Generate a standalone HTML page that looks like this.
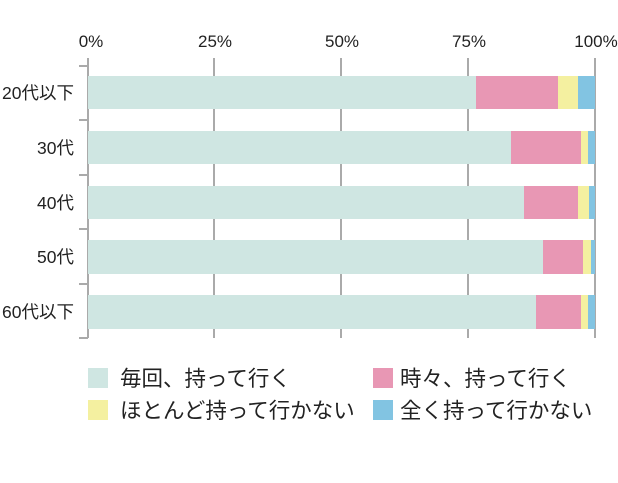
<!DOCTYPE html>
<html><head><meta charset="utf-8"><style>
body{margin:0;background:#fff;width:618px;height:478px;overflow:hidden}
svg text{font-family:"Liberation Sans","Noto Sans CJK JP",sans-serif;fill:#222}
</style></head><body>
<svg width="618" height="478" xmlns="http://www.w3.org/2000/svg">
<g font-size="17" text-anchor="middle">
<text x="91" y="47">0%</text><text x="215" y="47">25%</text><text x="342" y="47">50%</text><text x="469" y="47">75%</text><text x="596" y="47">100%</text>
</g>
<g stroke="#aaa" stroke-width="2">
<line x1="88" y1="58" x2="88" y2="338"/><line x1="214" y1="58" x2="214" y2="338"/><line x1="341" y1="58" x2="341" y2="338"/><line x1="468" y1="58" x2="468" y2="338"/><line x1="595" y1="58" x2="595" y2="338"/>
<line x1="79" y1="66" x2="88" y2="66"/><line x1="79" y1="120" x2="88" y2="120"/><line x1="79" y1="175" x2="88" y2="175"/><line x1="79" y1="229" x2="88" y2="229"/><line x1="79" y1="284" x2="88" y2="284"/><line x1="79" y1="338" x2="88" y2="338"/>
</g>
<g>
<rect x="88" y="76" width="388" height="33" fill="#cfe6e2"/><rect x="476" y="76" width="82" height="33" fill="#e897b4"/><rect x="558" y="76" width="20" height="33" fill="#f4f0a0"/><rect x="578" y="76" width="17" height="33" fill="#82c4e2"/>
<rect x="88" y="131" width="423" height="33" fill="#cfe6e2"/><rect x="511" y="131" width="70" height="33" fill="#e897b4"/><rect x="581" y="131" width="7" height="33" fill="#f4f0a0"/><rect x="588" y="131" width="7" height="33" fill="#82c4e2"/>
<rect x="88" y="186" width="436" height="33" fill="#cfe6e2"/><rect x="524" y="186" width="54" height="33" fill="#e897b4"/><rect x="578" y="186" width="11" height="33" fill="#f4f0a0"/><rect x="589" y="186" width="6" height="33" fill="#82c4e2"/>
<rect x="88" y="240" width="455" height="34" fill="#cfe6e2"/><rect x="543" y="240" width="40" height="34" fill="#e897b4"/><rect x="583" y="240" width="8" height="34" fill="#f4f0a0"/><rect x="591" y="240" width="4" height="34" fill="#82c4e2"/>
<rect x="88" y="295" width="448" height="34" fill="#cfe6e2"/><rect x="536" y="295" width="45" height="34" fill="#e897b4"/><rect x="581" y="295" width="7" height="34" fill="#f4f0a0"/><rect x="588" y="295" width="7" height="34" fill="#82c4e2"/>
</g>
<g font-size="17.5" text-anchor="end">
<text x="74" y="99">20代以下</text><text x="74" y="154">30代</text><text x="74" y="209">40代</text><text x="74" y="263">50代</text><text x="74" y="318">60代以下</text>
</g>
<g font-size="21.5">
<rect x="88" y="368" width="20" height="20" fill="#cfe6e2"/><text x="120" y="386">毎回、持って行く</text>
<rect x="373" y="368" width="20" height="20" fill="#e897b4"/><text x="400" y="386">時々、持って行く</text>
<rect x="88" y="400" width="20" height="20" fill="#f4f0a0"/><text x="120" y="418">ほとんど持って行かない</text>
<rect x="373" y="400" width="20" height="20" fill="#82c4e2"/><text x="400" y="418">全く持って行かない</text>
</g>
</svg>
</body></html>
